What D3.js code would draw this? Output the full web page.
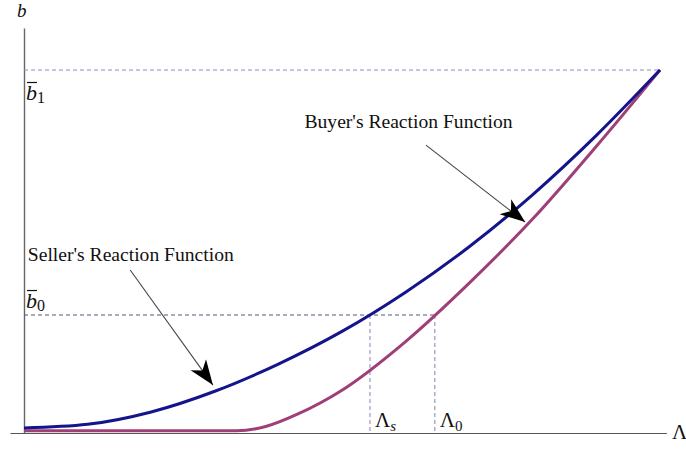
<!DOCTYPE html>
<html>
<head>
<meta charset="utf-8">
<script src="https://cdn.jsdelivr.net/npm/d3@7"></script>
<style>
  html, body { margin: 0; padding: 0; background: #fff; }
  svg { display: block; }
  text { font-family: "Liberation Serif", "Times New Roman", serif; fill: #111; }
</style>
</head>
<body>
<svg id="chart" width="686" height="449"></svg>
<script>
// Reaction functions: b as a function of Λ (normalised units)
const lambdaBuyer = [0, 0.1, 0.2, 0.3, 0.4, 0.5, 0.6, 0.7, 0.8, 0.9, 1];
const bBuyer      = [0.014, 0.024, 0.058, 0.115, 0.190, 0.280, 0.388, 0.513, 0.657, 0.820, 1];

const lambdaSeller = [0, 0.1, 0.2, 0.3, 0.335, 0.38, 0.43, 0.5, 0.6, 0.7, 0.8, 0.9, 1];
const bSeller      = [0.006, 0.006, 0.006, 0.006, 0.006, 0.018, 0.052, 0.118, 0.252, 0.413, 0.590, 0.790, 1];

// Reference levels
const bLevels = [ { sub: "1", value: 1 }, { sub: "0", value: 0.325 } ];
const lambdaLevels = [ { sub: "s", value: 0.544, italicSub: true }, { sub: "0", value: 0.646, italicSub: false } ];

// Annotation arrows: text, text anchor point, arrow start, arrow tip
const annotations = [
  { text: "Buyer's Reaction Function", tx: 0.441, ty: 0.840, x0: 0.632, y0: 0.793, x1: 0.788, y1: 0.581 },
  { text: "Seller's Reaction Function", tx: 0.006, ty: 0.474, x0: 0.167, y0: 0.449, x1: 0.297, y1: 0.132 }
];

const svg = d3.select("#chart");
const x = d3.scaleLinear().domain([0, 1]).range([24, 660]);
const y = d3.scaleLinear().domain([0, 1]).range([433, 70]);

// Axes (no ticks)
const xAxisScale = d3.scaleLinear().domain([-0.022, 1.010]).range([x(-0.022), x(1.010)]);
const yAxisScale = d3.scaleLinear().domain([0, 1.116]).range([y(0), y(1.116)]);
svg.append("g").attr("transform", `translate(0,${y(0)})`)
  .call(d3.axisBottom(xAxisScale).tickValues([]).tickSizeOuter(0))
  .select(".domain").attr("stroke", "#555").attr("stroke-width", 1.2);
svg.append("g").attr("transform", `translate(${x(0)},0)`)
  .call(d3.axisLeft(yAxisScale).tickValues([]).tickSizeOuter(0))
  .select(".domain").attr("stroke", "#666").attr("stroke-width", 1.4);

// Dashed guide lines
const guides = svg.append("g").attr("fill", "none").attr("stroke-width", 1).attr("stroke-dasharray", "4,3");
guides.append("line")
  .attr("x1", x(0)).attr("x2", x(1)).attr("y1", y(bLevels[0].value)).attr("y2", y(bLevels[0].value))
  .attr("stroke", "#8a8ad0");
guides.append("line")
  .attr("x1", x(0)).attr("x2", x(lambdaLevels[1].value)).attr("y1", y(bLevels[1].value)).attr("y2", y(bLevels[1].value))
  .attr("stroke", "#55557a");
lambdaLevels.forEach(d => {
  guides.append("line")
    .attr("x1", x(d.value)).attr("x2", x(d.value)).attr("y1", y(bLevels[1].value)).attr("y2", y(0))
    .attr("stroke", "#8484b0");
});

// Curves
const line = d3.line().x(d => x(d[0])).y(d => y(d[1])).curve(d3.curveMonotoneX);
svg.append("path")
  .datum(d3.zip(lambdaSeller, bSeller))
  .attr("d", line).attr("fill", "none").attr("stroke", "#9e3f78").attr("stroke-width", 3);
svg.append("path")
  .datum(d3.zip(lambdaBuyer, bBuyer))
  .attr("d", line).attr("fill", "none").attr("stroke", "#14148c").attr("stroke-width", 3);

// Arrowhead marker
svg.append("defs").append("marker")
  .attr("id", "head").attr("viewBox", "-25 -10 27 20")
  .attr("refX", 0).attr("refY", 0)
  .attr("markerWidth", 27).attr("markerHeight", 20)
  .attr("markerUnits", "userSpaceOnUse").attr("orient", "auto")
  .append("path").attr("d", "M0,0 L-25,-9.5 L-18,0 L-25,9.5 Z").attr("fill", "#000");

annotations.forEach(a => {
  svg.append("text").attr("x", x(a.tx)).attr("y", y(a.ty)).attr("font-size", 19.6).text(a.text);
  svg.append("line")
    .attr("x1", x(a.x0)).attr("y1", y(a.y0)).attr("x2", x(a.x1)).attr("y2", y(a.y1))
    .attr("stroke", "#444").attr("stroke-width", 1.1).attr("marker-end", "url(#head)");
});

// Axis titles
svg.append("text").attr("x", 17).attr("y", 17).attr("font-size", 19).attr("font-style", "italic").text("b");
svg.append("text").attr("x", 672).attr("y", 439).attr("font-size", 21).text("Λ");

// Level labels on the b axis
bLevels.forEach((d, i) => {
  const base = i === 0 ? y(d.value) + 30 : y(d.value) - 7;
  const t = svg.append("text").attr("x", 26).attr("y", base).attr("font-size", 22);
  t.append("tspan").attr("font-style", "italic").text("b");
  t.append("tspan").attr("font-size", 16).attr("dy", 3).text(d.sub);
  svg.append("line").attr("x1", 27).attr("x2", 37).attr("y1", base - 17.5).attr("y2", base - 17.5)
    .attr("stroke", "#111").attr("stroke-width", 1.2);
});

// Level labels on the Λ axis
lambdaLevels.forEach(d => {
  const t = svg.append("text").attr("x", x(d.value) + 5).attr("y", 427).attr("font-size", 21);
  t.append("tspan").text("Λ");
  t.append("tspan").attr("font-size", 15).attr("dy", 4)
    .attr("font-style", d.italicSub ? "italic" : "normal").text(d.sub);
});
</script>
</body>
</html>
